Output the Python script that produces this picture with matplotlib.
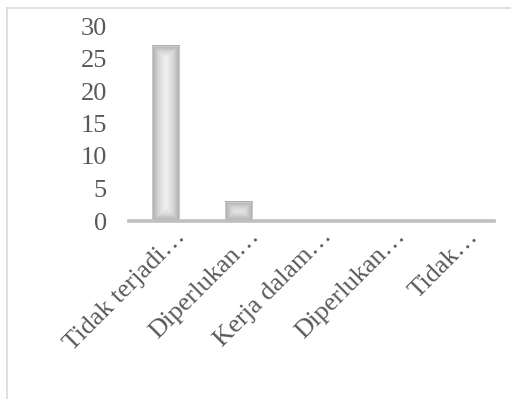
import numpy as np
import matplotlib.pyplot as plt
from matplotlib.lines import Line2D
from matplotlib.transforms import ScaledTranslation
from matplotlib.colors import LinearSegmentedColormap

categories = ['Tidak terjadi…', 'Diperlukan…', 'Kerja dalam…', 'Diperlukan…', 'Tidak…']
values = [27, 3, 0, 0, 0]
y_ticks = [0, 5, 10, 15, 20, 25, 30]

text_col = '#595959'
plt.rcParams['font.family'] = ['Liberation Serif', 'DejaVu Serif']

fig = plt.figure(figsize=(5.11, 3.99), dpi=100)
ax = fig.add_axes([129 / 511, 178 / 399, 365 / 511, 195 / 399])

bar_w = 0.37
bars = ax.bar(range(len(categories)), values, width=bar_w, color='none',
              edgecolor='#cfcfcf', linewidth=0.6, zorder=3)
ax.set_xlim(-0.5, len(categories) - 0.5)
ax.set_ylim(0, 30)

# gradient fill for each bar: light centre, darker towards edges
cmap = LinearSegmentedColormap.from_list('g', ['#ababab', '#d8d8d8', '#f2f2f2'])
fig.canvas.draw()
for b in bars:
    h = b.get_height()
    if h <= 0:
        continue
    x0, y0 = b.get_x(), b.get_y()
    p0 = ax.transData.transform((x0, y0))
    p1 = ax.transData.transform((x0 + b.get_width(), y0 + h))
    wpx, hpx = abs(p1[0] - p0[0]), abs(p1[1] - p0[1])
    nx, ny = max(int(wpx * 3), 2), max(int(hpx * 3), 2)
    xs = (np.arange(nx) + 0.5) / nx * wpx
    ys = (np.arange(ny) + 0.5) / ny * hpx
    X, Y = np.meshgrid(xs, ys)
    dist = np.minimum(np.minimum(X, wpx - X), np.minimum(Y, hpx - Y))
    t = np.clip(dist / (wpx / 2), 0, 1)
    ax.imshow(t, cmap=cmap, vmin=0, vmax=1, extent=(x0, x0 + b.get_width(), y0, y0 + h),
              aspect='auto', origin='lower', zorder=2, interpolation='bilinear')
ax.set_xlim(-0.5, len(categories) - 0.5)
ax.set_ylim(0, 30)

for s in ['top', 'right', 'left']:
    ax.spines[s].set_visible(False)
ax.spines['bottom'].set_color('#bfbfbf')
ax.spines['bottom'].set_linewidth(2.6)
ax.spines['bottom'].set_zorder(4)

ax.set_yticks(y_ticks)
ax.tick_params(axis='y', length=0, pad=16, labelsize=19, labelcolor=text_col)
ax.set_xticks(range(len(categories)))
ax.set_xticklabels(categories, rotation=45, ha='right', va='center',
                   rotation_mode='anchor', fontsize=19, color=text_col)
ax.tick_params(axis='x', length=0, pad=0)
off = ScaledTranslation(0.17, -0.12, fig.dpi_scale_trans)
for lab in ax.get_xticklabels():
    lab.set_transform(lab.get_transform() + off)

# outer frame (top and left edges visible)
fig.add_artist(Line2D([7 / 511, 1], [1 - 8 / 399, 1 - 8 / 399], color='#d9d9d9', lw=1.2,
                      transform=fig.transFigure))
fig.add_artist(Line2D([7 / 511, 7 / 511], [0, 1 - 8 / 399], color='#d9d9d9', lw=1.2,
                      transform=fig.transFigure))

fig.savefig('out.png', dpi=100)
